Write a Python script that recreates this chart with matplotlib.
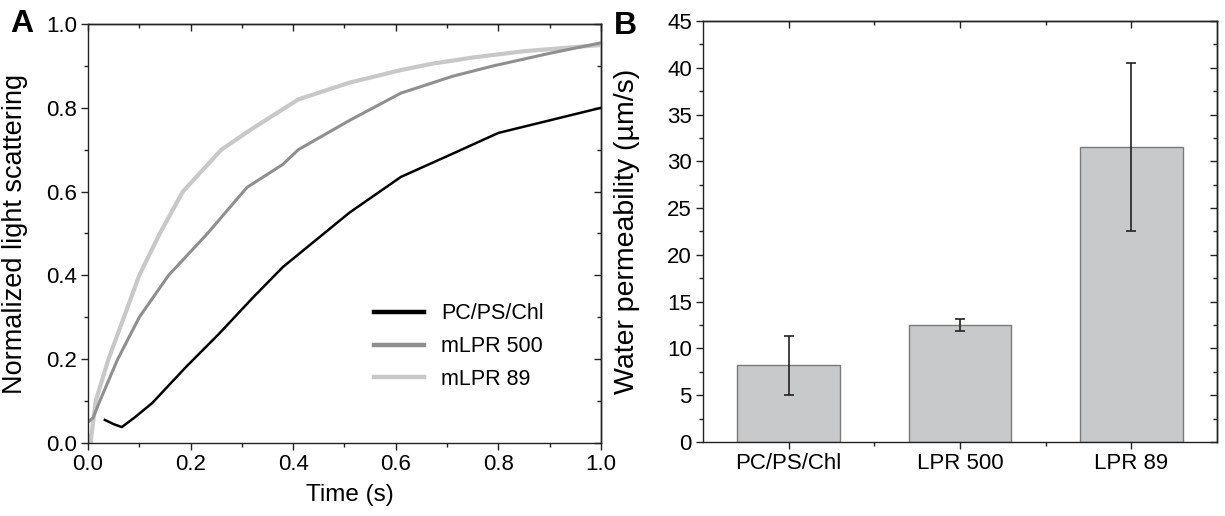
import matplotlib
matplotlib.use('Agg')
import matplotlib.pyplot as plt
from matplotlib.ticker import MultipleLocator, FixedLocator
from matplotlib.lines import Line2D

plt.rcParams['font.family'] = ['Liberation Sans', 'DejaVu Sans']

# パネルA: 規格化光散乱の時間変化
t_chl = [0.033, 0.05, 0.066, 0.09, 0.125, 0.19, 0.255, 0.32, 0.38, 0.41, 0.51, 0.61, 0.71, 0.8, 0.9, 1.0]
v_chl = [0.055, 0.045, 0.038, 0.06, 0.095, 0.18, 0.26, 0.345, 0.42, 0.45, 0.55, 0.635, 0.69, 0.74, 0.77, 0.80]

t_500 = [0.0, 0.01, 0.023, 0.058, 0.10, 0.157, 0.233, 0.31, 0.38, 0.41, 0.51, 0.61, 0.71, 0.79, 0.9, 1.0]
v_500 = [0.05, 0.06, 0.10, 0.20, 0.30, 0.40, 0.50, 0.61, 0.665, 0.70, 0.77, 0.835, 0.875, 0.90, 0.93, 0.955]

t_89 = [0.0, 0.005, 0.015, 0.04, 0.07, 0.1, 0.14, 0.185, 0.26, 0.32, 0.41, 0.51, 0.61, 0.67, 0.75, 0.85, 0.95, 1.0]
v_89 = [0.02, 0.0, 0.10, 0.20, 0.30, 0.40, 0.50, 0.60, 0.70, 0.75, 0.82, 0.86, 0.89, 0.905, 0.92, 0.935, 0.945, 0.95]

line_labels = ['PC/PS/Chl', 'mLPR 500', 'mLPR 89']

# パネルB: 水透過性
bar_labels = ['PC/PS/Chl', 'LPR 500', 'LPR 89']
bar_values = [8.2, 12.5, 31.5]
bar_errors = [3.15, 0.65, 9.0]

BLACK = '#000000'
MID = '#8f8f8f'
LIGHT = '#c8c8c8'
TICK_FS = 16


def style_axis(ax, xmajor, xminor, ymajor, yminor):
    ax.xaxis.set_major_locator(xmajor)
    ax.xaxis.set_minor_locator(xminor)
    ax.yaxis.set_major_locator(ymajor)
    ax.yaxis.set_minor_locator(yminor)
    ax.tick_params(which='both', direction='out', width=1.0, colors='#222222',
                   labelcolor='black', labelsize=TICK_FS, pad=3.0)
    ax.tick_params(which='major', length=5)
    ax.tick_params(which='minor', length=3)
    for s in ax.spines.values():
        s.set_linewidth(1.0)
        s.set_color('#222222')
    # 上と右の目盛りは内向き
    top = ax.secondary_xaxis('top')
    top.xaxis.set_major_locator(xmajor)
    top.xaxis.set_minor_locator(xminor)
    top.tick_params(which='both', direction='in', labeltop=False, width=1.0, colors='#222222')
    top.tick_params(which='major', length=5)
    top.tick_params(which='minor', length=3)
    top.spines['top'].set_linewidth(1.0)
    right = ax.secondary_yaxis('right')
    right.yaxis.set_major_locator(ymajor)
    right.yaxis.set_minor_locator(yminor)
    right.tick_params(which='both', direction='in', labelright=False, width=1.0, colors='#222222')
    right.tick_params(which='major', length=5)
    right.tick_params(which='minor', length=3)
    right.spines['right'].set_linewidth(1.0)


fig = plt.figure(figsize=(12.25, 5.16), dpi=100)

# ---- A ----
axA = fig.add_axes([0.0718, 0.1415, 0.4188, 0.812])
axA.plot(t_89, v_89, color=LIGHT, lw=3.0, solid_capstyle='butt')
axA.plot(t_500, v_500, color=MID, lw=2.2)
axA.plot(t_chl, v_chl, color=BLACK, lw=1.8)
axA.set_xlim(0, 1.0)
axA.set_ylim(0, 1.0)
style_axis(axA, MultipleLocator(0.2), MultipleLocator(0.1),
           MultipleLocator(0.2), MultipleLocator(0.1))
axA.xaxis.set_major_formatter(matplotlib.ticker.FormatStrFormatter('%.1f'))
axA.yaxis.set_major_formatter(matplotlib.ticker.FormatStrFormatter('%.1f'))
axA.set_xlabel('Time (s)', fontsize=17.5)
axA.set_ylabel('Normalized light scattering', fontsize=19.5)
axA.xaxis.set_label_coords(0.51, -0.097)
axA.yaxis.set_label_coords(-0.116, 0.5)

handles = [Line2D([], [], color=c, lw=3.2) for c in [BLACK, MID, LIGHT]]
axA.legend(handles, line_labels, loc='center left', bbox_to_anchor=(0.52, 0.23),
           frameon=False, fontsize=15.5, handlelength=2.3, handletextpad=0.8,
           labelspacing=0.55)

fig.text(10 / 1225, 1 - 32 / 516, 'A', fontsize=23, fontweight='bold')

# ---- B ----
axB = fig.add_axes([0.5739, 0.1434, 0.4196, 0.816])
xpos = list(range(1, len(bar_labels) + 1))
axB.bar(xpos, bar_values, width=0.6, color='#c8c9cb', edgecolor='#7a7a7a', linewidth=1.0,
        yerr=bar_errors, error_kw=dict(ecolor='#222222', elinewidth=1.2, capsize=3.5, capthick=1.2))
axB.set_xlim(0.5, 3.5)
axB.set_ylim(0, 45)
style_axis(axB, FixedLocator(xpos), FixedLocator([1.5, 2.5]),
           MultipleLocator(5), MultipleLocator(2.5))
axB.set_xticklabels(bar_labels)
axB.set_ylabel('Water permeability (µm/s)', fontsize=20.5)
axB.yaxis.set_label_coords(-0.122, 0.5)

fig.text(614 / 1225, 1 - 34 / 516, 'B', fontsize=23, fontweight='bold')

fig.savefig('out.png', dpi=100)
